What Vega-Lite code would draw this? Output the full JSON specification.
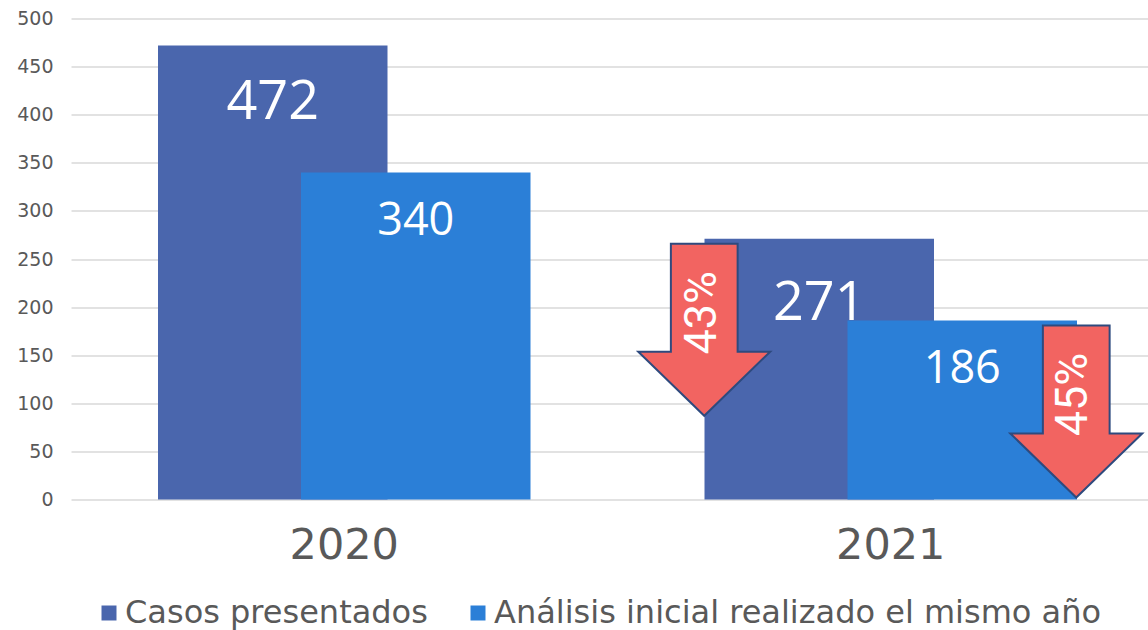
{
  "$schema": "https://vega.github.io/schema/vega-lite/v6.json",
  "width": 1077,
  "height": 481,
  "autosize": {"type": "none"},
  "padding": {"left": 71, "top": 18.5, "right": 0, "bottom": 130.5},
  "background": "white",
  "config": {"view": {"stroke": null}},
  "datasets": {
    "datos": [
      {"anio": "2020", "serie": "Casos presentados", "valor": 472},
      {"anio": "2020", "serie": "Análisis inicial realizado el mismo año", "valor": 340},
      {"anio": "2021", "serie": "Casos presentados", "valor": 271},
      {"anio": "2021", "serie": "Análisis inicial realizado el mismo año", "valor": 186}
    ],
    "flechas": [
      {"anio": "2021", "serie": "Casos presentados", "valor": 271, "etiqueta": "43%"},
      {"anio": "2021", "serie": "Análisis inicial realizado el mismo año", "valor": 186, "etiqueta": "45%"}
    ]
  },
  "encoding": {
    "x": {
      "field": "anio", "type": "nominal",
      "scale": {"range": [0, 1093], "paddingInner": 0, "paddingOuter": 0},
      "axis": {"title": null, "domain": false, "ticks": false, "tickSize": 0, "grid": false,
               "labelAngle": 0, "labelFont": "DejaVu Sans", "labelFontSize": 43, "labelColor": "#595959",
               "labelBaseline": "alphabetic", "labelPadding": 58.5}
    },
    "y": {
      "field": "valor", "type": "quantitative",
      "scale": {"domain": [0, 500], "nice": false},
      "axis": {"title": null, "domain": false, "ticks": false, "tickSize": 0,
               "values": [0, 50, 100, 150, 200, 250, 300, 350, 400, 450, 500],
               "grid": true, "gridColor": "#d9d9d9", "gridWidth": 1.5,
               "labelFont": "DejaVu Sans", "labelFontSize": 19, "labelColor": "#595959", "labelPadding": 18}
    }
  },
  "layer": [
    {
      "data": {"name": "datos"},
      "transform": [{"filter": "datum.serie == 'Casos presentados'"}],
      "mark": {"type": "bar", "width": 229.5, "xOffset": -71.5},
      "encoding": {
        "color": {"field": "serie", "type": "nominal",
          "scale": {"domain": ["Casos presentados", "Análisis inicial realizado el mismo año"], "range": ["#4A66AD", "#2B7FD7"]},
          "legend": {"title": null, "orient": "none", "legendX": 22, "legendY": 578.5, "direction": "horizontal",
                     "symbolType": "square", "symbolSize": 225, "symbolStrokeWidth": 0, "padding": 0,
                     "labelFont": "DejaVu Sans", "labelFontSize": 32, "labelColor": "#595959",
                     "labelOffset": 0, "columnPadding": 34, "labelLimit": 1000}}
      }
    },
    {
      "data": {"name": "datos"},
      "transform": [{"filter": "datum.serie != 'Casos presentados'"}],
      "mark": {"type": "bar", "width": 229.5, "xOffset": 71.5},
      "encoding": {"color": {"field": "serie", "type": "nominal"}}
    },
    {
      "data": {"name": "datos"},
      "transform": [{"filter": "datum.serie == 'Casos presentados' && datum.anio == '2020'"}],
      "mark": {"type": "text", "xOffset": -71.5, "yOffset": 74, "baseline": "alphabetic", "align": "center",
               "font": "Open Sans", "fontSize": 54, "fill": "white"},
      "encoding": {"text": {"field": "valor", "type": "quantitative"}}
    },
    {
      "data": {"name": "datos"},
      "transform": [{"filter": "datum.serie == 'Casos presentados' && datum.anio == '2021'"}],
      "mark": {"type": "text", "xOffset": -71.5, "yOffset": 81, "baseline": "alphabetic", "align": "center",
               "font": "Open Sans", "fontSize": 54, "fill": "white"},
      "encoding": {"text": {"field": "valor", "type": "quantitative"}}
    },
    {
      "data": {"name": "datos"},
      "transform": [{"filter": "datum.serie != 'Casos presentados'"}],
      "mark": {"type": "text", "xOffset": 71.5, "yOffset": 62.5, "baseline": "alphabetic", "align": "center",
               "font": "Open Sans", "fontSize": 45, "fill": "white"},
      "encoding": {"text": {"field": "valor", "type": "quantitative"}}
    },
    {
      "data": {"name": "flechas"},
      "transform": [{"filter": "datum.serie == 'Casos presentados'"}],
      "mark": {"type": "point", "filled": true, "opacity": 1,
               "shape": "M-0.388,-1L0.388,-1L0.388,0.254L0.767,0.254L0,1L-0.767,0.254L-0.388,0.254Z",
               "size": 29600, "fill": "#F26461", "stroke": "#2E4A7E", "strokeWidth": 2,
               "xOffset": -186.5, "yOffset": 91}
    },
    {
      "data": {"name": "flechas"},
      "transform": [{"filter": "datum.serie != 'Casos presentados'"}],
      "mark": {"type": "point", "filled": true, "opacity": 1,
               "shape": "M-0.388,-1L0.388,-1L0.388,0.254L0.767,0.254L0,1L-0.767,0.254L-0.388,0.254Z",
               "size": 29600, "fill": "#F26461", "stroke": "#2E4A7E", "strokeWidth": 2,
               "xOffset": 185.5, "yOffset": 91}
    },
    {
      "data": {"name": "flechas"},
      "transform": [{"filter": "datum.serie == 'Casos presentados'"}],
      "mark": {"type": "text", "angle": 270, "align": "center", "baseline": "middle",
               "font": "Roboto", "fontSize": 45, "fill": "white", "xOffset": -189, "yOffset": 74},
      "encoding": {"text": {"field": "etiqueta", "type": "nominal"}}
    },
    {
      "data": {"name": "flechas"},
      "transform": [{"filter": "datum.serie != 'Casos presentados'"}],
      "mark": {"type": "text", "angle": 270, "align": "center", "baseline": "middle",
               "font": "Roboto", "fontSize": 45, "fill": "white", "xOffset": 182, "yOffset": 74},
      "encoding": {"text": {"field": "etiqueta", "type": "nominal"}}
    }
  ]
}
